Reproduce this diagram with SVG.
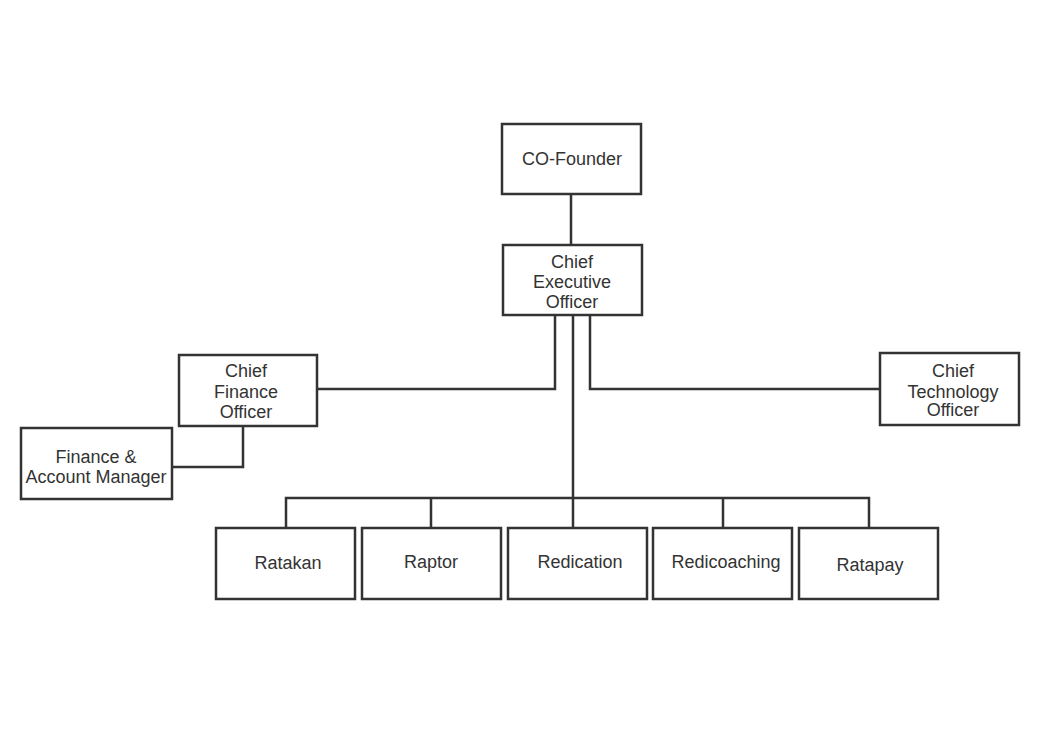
<svg xmlns="http://www.w3.org/2000/svg" width="1057" height="751" viewBox="0 0 1057 751">
<style>
.box{fill:#fff;stroke:#333;stroke-width:2.5}
.t{font-family:"Liberation Sans",Arial,sans-serif;font-size:18px;fill:#333;text-anchor:middle}
.c{fill:none;stroke:#333;stroke-width:2.5}
</style>
<rect width="1057" height="751" fill="#fff"/>
<g id="connectors">
<path class="c" d="M571 194V245"/>
<path class="c" d="M555 315V389H317"/>
<path class="c" d="M590 315V389H880"/>
<path class="c" d="M573 315V498"/>
<path class="c" d="M243 426V467H172"/>
<path class="c" d="M286 528V498H869V528"/>
<path class="c" d="M431 498V528M573 498V528M723 498V528"/>
</g>
<g id="cofounder"><rect class="box" x="502" y="124" width="139" height="70"/><text class="t" x="572" y="165">CO-Founder</text></g>
<g id="ceo"><rect class="box" x="503" y="245" width="139" height="70"/><text class="t" x="572" y="268">Chief</text><text class="t" x="572" y="288">Executive</text><text class="t" x="572" y="308">Officer</text></g>
<g id="cfo"><rect class="box" x="179" y="355" width="138" height="71"/><text class="t" x="246" y="377">Chief</text><text class="t" x="246" y="398">Finance</text><text class="t" x="246" y="418">Officer</text></g>
<g id="fam"><rect class="box" x="21" y="428" width="151" height="71"/><text class="t" x="96" y="463">Finance &amp;</text><text class="t" x="96" y="483">Account Manager</text></g>
<g id="cto"><rect class="box" x="880" y="353" width="139" height="72"/><text class="t" x="953" y="377">Chief</text><text class="t" x="953" y="398">Technology</text><text class="t" x="953" y="416">Officer</text></g>
<g id="ratakan"><rect class="box" x="216" y="528" width="139" height="71"/><text class="t" x="288" y="569">Ratakan</text></g>
<g id="raptor"><rect class="box" x="362" y="528" width="139" height="71"/><text class="t" x="431" y="568">Raptor</text></g>
<g id="redication"><rect class="box" x="508" y="528" width="139" height="71"/><text class="t" x="580" y="568">Redication</text></g>
<g id="redicoaching"><rect class="box" x="653" y="528" width="139" height="71"/><text class="t" x="726" y="568">Redicoaching</text></g>
<g id="ratapay"><rect class="box" x="799" y="528" width="139" height="71"/><text class="t" x="870" y="571">Ratapay</text></g>
</svg>
